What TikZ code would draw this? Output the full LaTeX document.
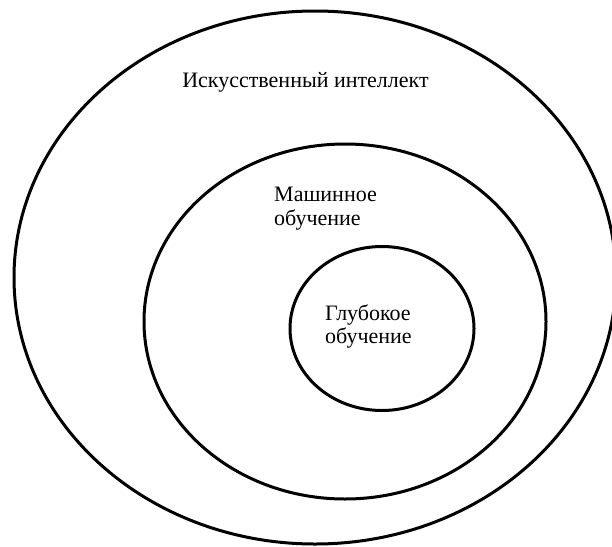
\documentclass[tikz,border=0pt]{standalone}
\usepackage{fontspec}
\setmainfont{Liberation Serif}
\begin{document}
\begin{tikzpicture}[x=1pt,y=-1pt,
  ring/.style={draw=black,line width=3pt},
  lbl/.style={font=\fontsize{22}{23.5}\selectfont,inner sep=0pt,align=left,text=black}]
\useasboundingbox (0,0) rectangle (612,546);
\clip (0,0) rectangle (612,546);
\fill[white] (0,0) rectangle (612,546);
\draw[ring] (315,277.5) ellipse [x radius=301, y radius=266.5];
\draw[ring] (345,321.5) ellipse [x radius=201, y radius=177.5];
\draw[ring] (382,328.5) ellipse [x radius=92, y radius=82];
\node[lbl,anchor=base] (ai) at (305.5,87) {Искусственный интеллект};
\node[lbl,anchor=base west] (ml) at (274,225) {Машинное\\обучение};
\node[lbl,anchor=base west] (dl) at (325,343.5) {Глубокое\\обучение};
\end{tikzpicture}
\end{document}
